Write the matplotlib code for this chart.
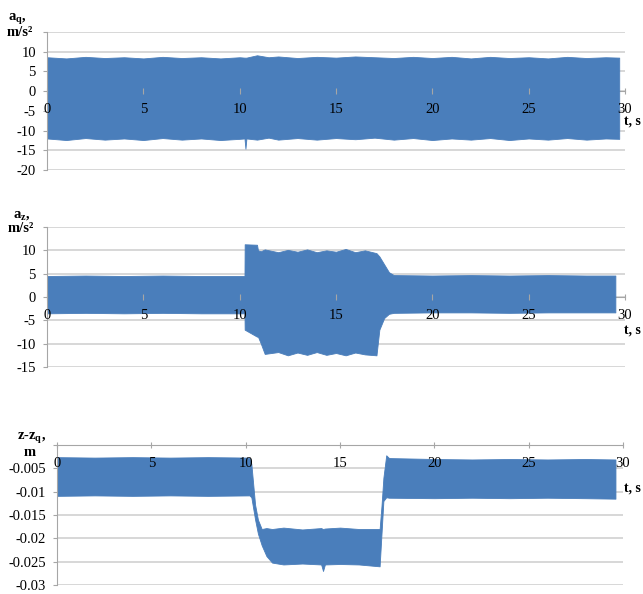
import matplotlib
matplotlib.use("Agg")
import matplotlib.pyplot as plt

plt.rcParams["font.family"] = "Liberation Serif"
plt.rcParams["mathtext.fontset"] = "custom"
plt.rcParams["mathtext.rm"] = "Liberation Serif"
plt.rcParams["mathtext.bf"] = "Liberation Serif:bold"
plt.rcParams["mathtext.it"] = "Liberation Serif:italic"
plt.rcParams["axes.unicode_minus"] = False

# time ticks shared by all three plots
t_ticks = [0, 5, 10, 15, 20, 25, 30]

# a_q, m/s^2 : envelope of the oscillating signal
aq_t = [0.0, 1.0, 2.0, 3.0, 4.0, 5.0, 6.0, 7.0, 8.0, 9.0, 10.0, 10.25, 10.3, 10.35,
        10.9, 11.5, 12.0, 13.0, 14.0, 15.0, 16.0, 17.0, 18.0, 19.0, 20.0, 21.0, 22.0,
        23.0, 24.0, 25.0, 26.0, 27.0, 28.0, 29.0, 29.7]
aq_upper = [8.6, 8.3, 8.7, 8.4, 8.6, 8.3, 8.7, 8.4, 8.6, 8.3, 8.6, 8.5, 8.5, 8.5,
            9.1, 8.6, 8.8, 8.4, 8.7, 8.5, 8.8, 8.6, 8.4, 8.7, 8.4, 8.7, 8.3,
            8.7, 8.4, 8.6, 8.3, 8.7, 8.4, 8.6, 8.5]
aq_lower = [-12.0, -12.4, -11.9, -12.3, -12.0, -12.4, -11.9, -12.3, -12.0, -12.4, -12.1, -12.0, -14.6, -12.0,
            -12.3, -11.8, -12.3, -11.9, -12.3, -11.9, -12.2, -11.8, -12.3, -11.9, -12.4, -12.0, -12.3,
            -11.9, -12.4, -12.0, -12.3, -11.9, -12.3, -12.0, -12.1]
aq_yticks = [-20, -15, -10, -5, 0, 5, 10, 15]
aq_ylabels = ["-20", "-15", "-10", "-5", "0", "5", "10", ""]

# a_z, m/s^2
az_t = [0.0, 2.0, 4.0, 6.0, 8.0, 10.25, 10.26, 10.9, 10.95, 11.1, 11.3, 12.0, 12.5, 13.0,
        13.5, 14.0, 14.5, 15.0, 15.5, 16.0, 16.5, 17.1, 17.25, 17.5, 17.75, 18.0,
        20.0, 22.0, 24.0, 26.0, 28.0, 29.5]
az_upper = [4.5, 4.6, 4.5, 4.6, 4.5, 4.5, 11.3, 11.2, 10.0, 9.8, 10.2, 9.6, 10.1, 9.7,
            10.2, 9.6, 10.0, 9.7, 10.3, 9.6, 10.0, 9.4, 8.7, 7.0, 5.3, 4.7,
            4.6, 4.7, 4.6, 4.7, 4.6, 4.6]
az_lower = [-3.5, -3.4, -3.5, -3.4, -3.5, -3.5, -7.0, -8.5, -8.5, -10.0, -12.2, -11.8, -12.5, -11.9,
            -12.4, -11.8, -12.4, -12.0, -12.5, -11.9, -12.3, -12.5, -7.0, -4.5, -3.6, -3.4,
            -3.3, -3.3, -3.4, -3.3, -3.3, -3.3]
az_yticks = [-15, -10, -5, 0, 5, 10, 15]
az_ylabels = ["-15", "-10", "-5", "0", "5", "10", ""]

# z - z_q, m
dz_t = [0.0, 2.0, 4.0, 6.0, 8.0, 10.2, 10.3, 10.5, 10.65, 10.85, 11.1, 11.4, 12.0, 13.0,
        14.0, 14.1, 14.2, 15.0, 16.0, 17.1, 17.2, 17.3, 17.45, 17.6, 20.0, 22.0,
        24.0, 26.0, 28.0, 29.6]
dz_upper = [-0.0026, -0.0027, -0.0026, -0.0027, -0.0026, -0.0027, -0.0040, -0.0128, -0.0160, -0.0180,
            -0.0178, -0.0180, -0.0177, -0.0181, -0.0178, -0.0180, -0.0179, -0.0177, -0.0180, -0.0180,
            -0.0130, -0.0070, -0.0022, -0.0028, -0.0030, -0.0031, -0.0030, -0.0031, -0.0030, -0.0031]
dz_lower = [-0.0109, -0.0108, -0.0109, -0.0108, -0.0109, -0.0108, -0.0112, -0.0160, -0.0190, -0.0215,
            -0.0238, -0.0252, -0.0256, -0.0254, -0.0256, -0.0270, -0.0256, -0.0255, -0.0256, -0.0260,
            -0.0190, -0.0120, -0.0112, -0.0113, -0.0114, -0.0113, -0.0114, -0.0113, -0.0114, -0.0115]
dz_yticks = [-0.03, -0.025, -0.02, -0.015, -0.01, -0.005, 0]
dz_ylabels = ["-0.03", "-0.025", "-0.02", "-0.015", "-0.01", "-0.005", ""]

BLUE = "#4a7ebb"
GRID = "#d4d4d4"
AXIS = "#a6a6a6"

W, H = 643, 594
fig = plt.figure(figsize=(W / 100, H / 100), dpi=100)


def box(left, top, right, bottom):
    return [left / W, 1 - bottom / H, (right - left) / W, (bottom - top) / H]


def panel(rect, t, upper, lower, yticks, ylabels):
    ax = fig.add_axes(rect)
    ax.fill_between(t, lower, upper, color=BLUE, lw=0.6, edgecolor=BLUE, zorder=2)
    ax.set_xlim(0, 30)
    ax.set_ylim(yticks[0], yticks[-1])
    ax.set_xticks(t_ticks)
    ax.set_xticklabels([str(v) for v in t_ticks])
    ax.set_yticks(yticks)
    ax.set_yticklabels(ylabels)
    ax.yaxis.grid(True, color=GRID, lw=1.3)
    ax.yaxis.set_zorder(0.5)
    ax.xaxis.set_zorder(5)
    for side in ["top", "right"]:
        ax.spines[side].set_visible(False)
    ax.spines["bottom"].set_position(("data", 0))
    ax.spines["bottom"].set_color(AXIS)
    ax.spines["bottom"].set_zorder(1)
    ax.spines["left"].set_color(AXIS)
    ax.tick_params(axis="x", direction="inout", length=4, color=AXIS, pad=6.5,
                   labelsize=10.5)
    ax.tick_params(axis="y", direction="out", length=3, color=AXIS, pad=5,
                   labelsize=10.5)
    return ax


ax1 = panel(box(47, 32, 625, 170), aq_t, aq_upper, aq_lower, aq_yticks, aq_ylabels)
ax2 = panel(box(47, 227, 625, 367), az_t, az_upper, az_lower, az_yticks, az_ylabels)
ax3 = panel(box(57, 445, 623, 585), dz_t, dz_upper, dz_lower, dz_yticks, dz_ylabels)


def label(x, y, s, **kw):
    fig.text(x / W, 1 - y / H, s, fontsize=10.5, fontweight="bold",
             ha="center", va="center", **kw)


label(17, 19, r"$\mathbf{a_q,}$")
label(20, 32, "m/s²")
label(22, 215, r"$\mathbf{a_z,}$")
label(21, 228, "m/s²")
label(32, 437, r"$\mathbf{z\text{-}z_q,}$")
label(30, 452, "m")

# time axis caption beside the "30" tick of each plot
for y in [121, 330, 488]:
    fig.text(624 / W, 1 - y / H, "t, s", fontsize=10, fontweight="bold",
             ha="left", va="center")

fig.savefig("out.png", dpi=100)
